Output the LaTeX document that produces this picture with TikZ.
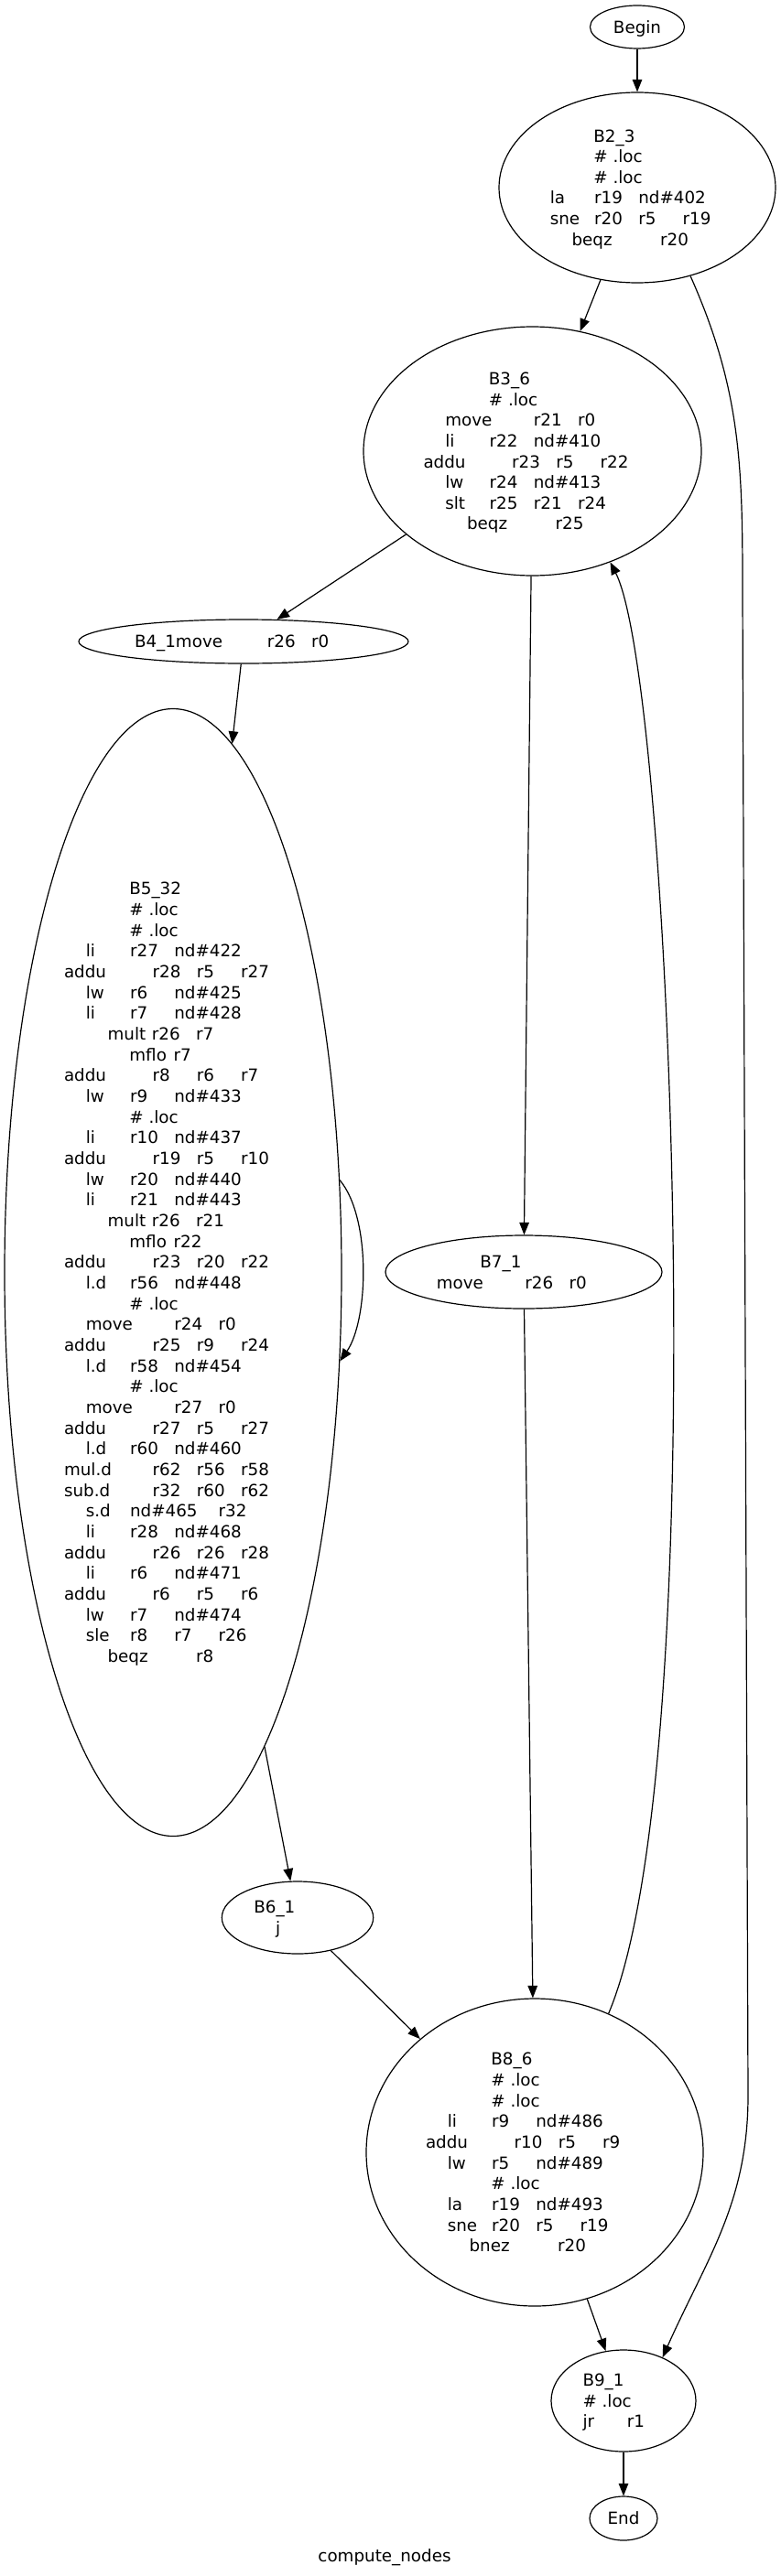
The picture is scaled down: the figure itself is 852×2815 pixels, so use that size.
\documentclass[tikz,border=0pt]{standalone}
\usepackage{fontspec}
\setmainfont{DejaVu Sans}
\usepackage{tikz}
\usetikzlibrary{arrows.meta,shapes.geometric}

\newlength{\lineoff}\setlength{\lineoff}{11.9pt}
\newcommand{\lstrut}{\rule[-2.33pt]{0pt}{11.33pt}}
\newcommand{\asm}[2]{\makebox[0pt][l]{\hspace*{-#1\lineoff}\lstrut#2}}
\newcommand{\tabone}[1]{\makebox[24.15pt][l]{#1}}
\newcommand{\tabtwo}[1]{\makebox[48.3pt][l]{#1}}
\newcommand{\tabthree}[1]{\makebox[72.45pt][l]{#1}}

\begin{document}
\begin{tikzpicture}[->,>={Triangle[length=6.8pt,width=5.3pt]},semithick,x=0.5pt,y=0.5pt,
  every node/.style={font=\fontsize{9.15}{11.33}\selectfont},
  term/.style={ellipse,draw,inner sep=0pt},
  block/.style={ellipse,draw,inner sep=0pt,align=center}]
\useasboundingbox (0,0) rectangle (852,-2815);

\node[term,minimum width=51.5pt,minimum height=23.5pt] (begin) at (696,-29.5) {\lstrut Begin};
\node[block,minimum width=151pt,minimum height=104pt] (b23) at (696,-205) {%
  \asm{2}{B2\_3}\\ \asm{2}{\# .loc}\\ \asm{2}{\# .loc}\\
  \asm{4}{\tabone{la}\tabone{r19}nd\#402}\\
  \asm{4}{\tabone{sne}\tabone{r20}\tabone{r5}r19}\\
  \asm{3}{\tabtwo{beqz}r20}};
\node[block,minimum width=184.5pt,minimum height=136pt] (b36) at (581.5,-493) {%
  \asm{2}{B3\_6}\\ \asm{2}{\# .loc}\\
  \asm{4}{\tabtwo{move}\tabone{r21}r0}\\
  \asm{4}{\tabone{li}\tabone{r22}nd\#410}\\
  \asm{5}{\tabtwo{addu}\tabone{r23}\tabone{r5}r22}\\
  \asm{4}{\tabone{lw}\tabone{r24}nd\#413}\\
  \asm{4}{\tabone{slt}\tabone{r25}\tabone{r21}r24}\\
  \asm{3}{\tabtwo{beqz}r25}};
\node[block,minimum width=180pt,minimum height=24pt] (b41) at (266,-701) {%
  \asm{5}{\tabthree{B4\_1move}\tabone{r26}r0}};
\node[block,minimum width=184pt,minimum height=616pt] (b532) at (189,-1390.5) {%
  \asm{2}{B5\_32}\\ \asm{2}{\# .loc}\\ \asm{2}{\# .loc}\\
  \asm{4}{\tabone{li}\tabone{r27}nd\#422}\\
  \asm{5}{\tabtwo{addu}\tabone{r28}\tabone{r5}r27}\\
  \asm{4}{\tabone{lw}\tabone{r6}nd\#425}\\
  \asm{4}{\tabone{li}\tabone{r7}nd\#428}\\
  \asm{3}{\tabone{mult}\tabone{r26}r7}\\
  \asm{2}{\tabone{mflo}r7}\\
  \asm{5}{\tabtwo{addu}\tabone{r8}\tabone{r6}r7}\\
  \asm{4}{\tabone{lw}\tabone{r9}nd\#433}\\
  \asm{2}{\# .loc}\\
  \asm{4}{\tabone{li}\tabone{r10}nd\#437}\\
  \asm{5}{\tabtwo{addu}\tabone{r19}\tabone{r5}r10}\\
  \asm{4}{\tabone{lw}\tabone{r20}nd\#440}\\
  \asm{4}{\tabone{li}\tabone{r21}nd\#443}\\
  \asm{3}{\tabone{mult}\tabone{r26}r21}\\
  \asm{2}{\tabone{mflo}r22}\\
  \asm{5}{\tabtwo{addu}\tabone{r23}\tabone{r20}r22}\\
  \asm{4}{\tabone{l.d}\tabone{r56}nd\#448}\\
  \asm{2}{\# .loc}\\
  \asm{4}{\tabtwo{move}\tabone{r24}r0}\\
  \asm{5}{\tabtwo{addu}\tabone{r25}\tabone{r9}r24}\\
  \asm{4}{\tabone{l.d}\tabone{r58}nd\#454}\\
  \asm{2}{\# .loc}\\
  \asm{4}{\tabtwo{move}\tabone{r27}r0}\\
  \asm{5}{\tabtwo{addu}\tabone{r27}\tabone{r5}r27}\\
  \asm{4}{\tabone{l.d}\tabone{r60}nd\#460}\\
  \asm{5}{\tabtwo{mul.d}\tabone{r62}\tabone{r56}r58}\\
  \asm{5}{\tabtwo{sub.d}\tabone{r32}\tabone{r60}r62}\\
  \asm{4}{\tabone{s.d}\tabtwo{nd\#465}r32}\\
  \asm{4}{\tabone{li}\tabone{r28}nd\#468}\\
  \asm{5}{\tabtwo{addu}\tabone{r26}\tabone{r26}r28}\\
  \asm{4}{\tabone{li}\tabone{r6}nd\#471}\\
  \asm{5}{\tabtwo{addu}\tabone{r6}\tabone{r5}r6}\\
  \asm{4}{\tabone{lw}\tabone{r7}nd\#474}\\
  \asm{4}{\tabone{sle}\tabone{r8}\tabone{r7}r26}\\
  \asm{3}{\tabtwo{beqz}r8}};
\node[block,minimum width=151pt,minimum height=40pt] (b71) at (572,-1390) {%
  \asm{2}{B7\_1}\\ \asm{4}{\tabtwo{move}\tabone{r26}r0}};
\node[block,minimum width=82.7pt,minimum height=39.5pt] (b61) at (325,-2095.5) {%
  \asm{2}{B6\_1}\\ \asm{1}{j}};
\node[block,minimum width=184pt,minimum height=168pt] (b86) at (584,-2352) {%
  \asm{2}{B8\_6}\\ \asm{2}{\# .loc}\\ \asm{2}{\# .loc}\\
  \asm{4}{\tabone{li}\tabone{r9}nd\#486}\\
  \asm{5}{\tabtwo{addu}\tabone{r10}\tabone{r5}r9}\\
  \asm{4}{\tabone{lw}\tabone{r5}nd\#489}\\
  \asm{2}{\# .loc}\\
  \asm{4}{\tabone{la}\tabone{r19}nd\#493}\\
  \asm{4}{\tabone{sne}\tabone{r20}\tabone{r5}r19}\\
  \asm{3}{\tabtwo{bnez}r20}};
\node[block,minimum width=79pt,minimum height=55.5pt] (b91) at (681,-2623.5) {%
  \asm{1.87}{B9\_1}\\ \asm{1.87}{\# .loc}\\ \asm{1.87}{\tabone{jr}r1}};
\node[term,minimum width=37pt,minimum height=24pt] (finish) at (681,-2752) {\lstrut End};
\node (title) at (420,-2793) {\lstrut compute\_nodes};

\coordinate (rr1) at (811,-650);
\coordinate (rr2) at (817,-2290);

\path (begin) edge (b23);
\path (b23) edge (b36);
\path (b36) edge (b41);
\path (b36) edge (b71);
\path (b41) edge (b532);
\path (b532.29) edge[out=-50,in=55,looseness=0.7] (b532.-28);
\path (b532) edge (b61);
\path (b61) edge (b86);
\path (b71) edge (b86);
\path (b86.62) edge[out=67,in=-63,out looseness=0.48,in looseness=0.24] (b36.-55);
\path (b86) edge (b91);
\path (b91) edge (finish);
\draw (b23.-59) to[out=-66,in=90] (rr1) -- (rr2) to[out=-90,in=66] (b91.48);
\end{tikzpicture}
\end{document}
